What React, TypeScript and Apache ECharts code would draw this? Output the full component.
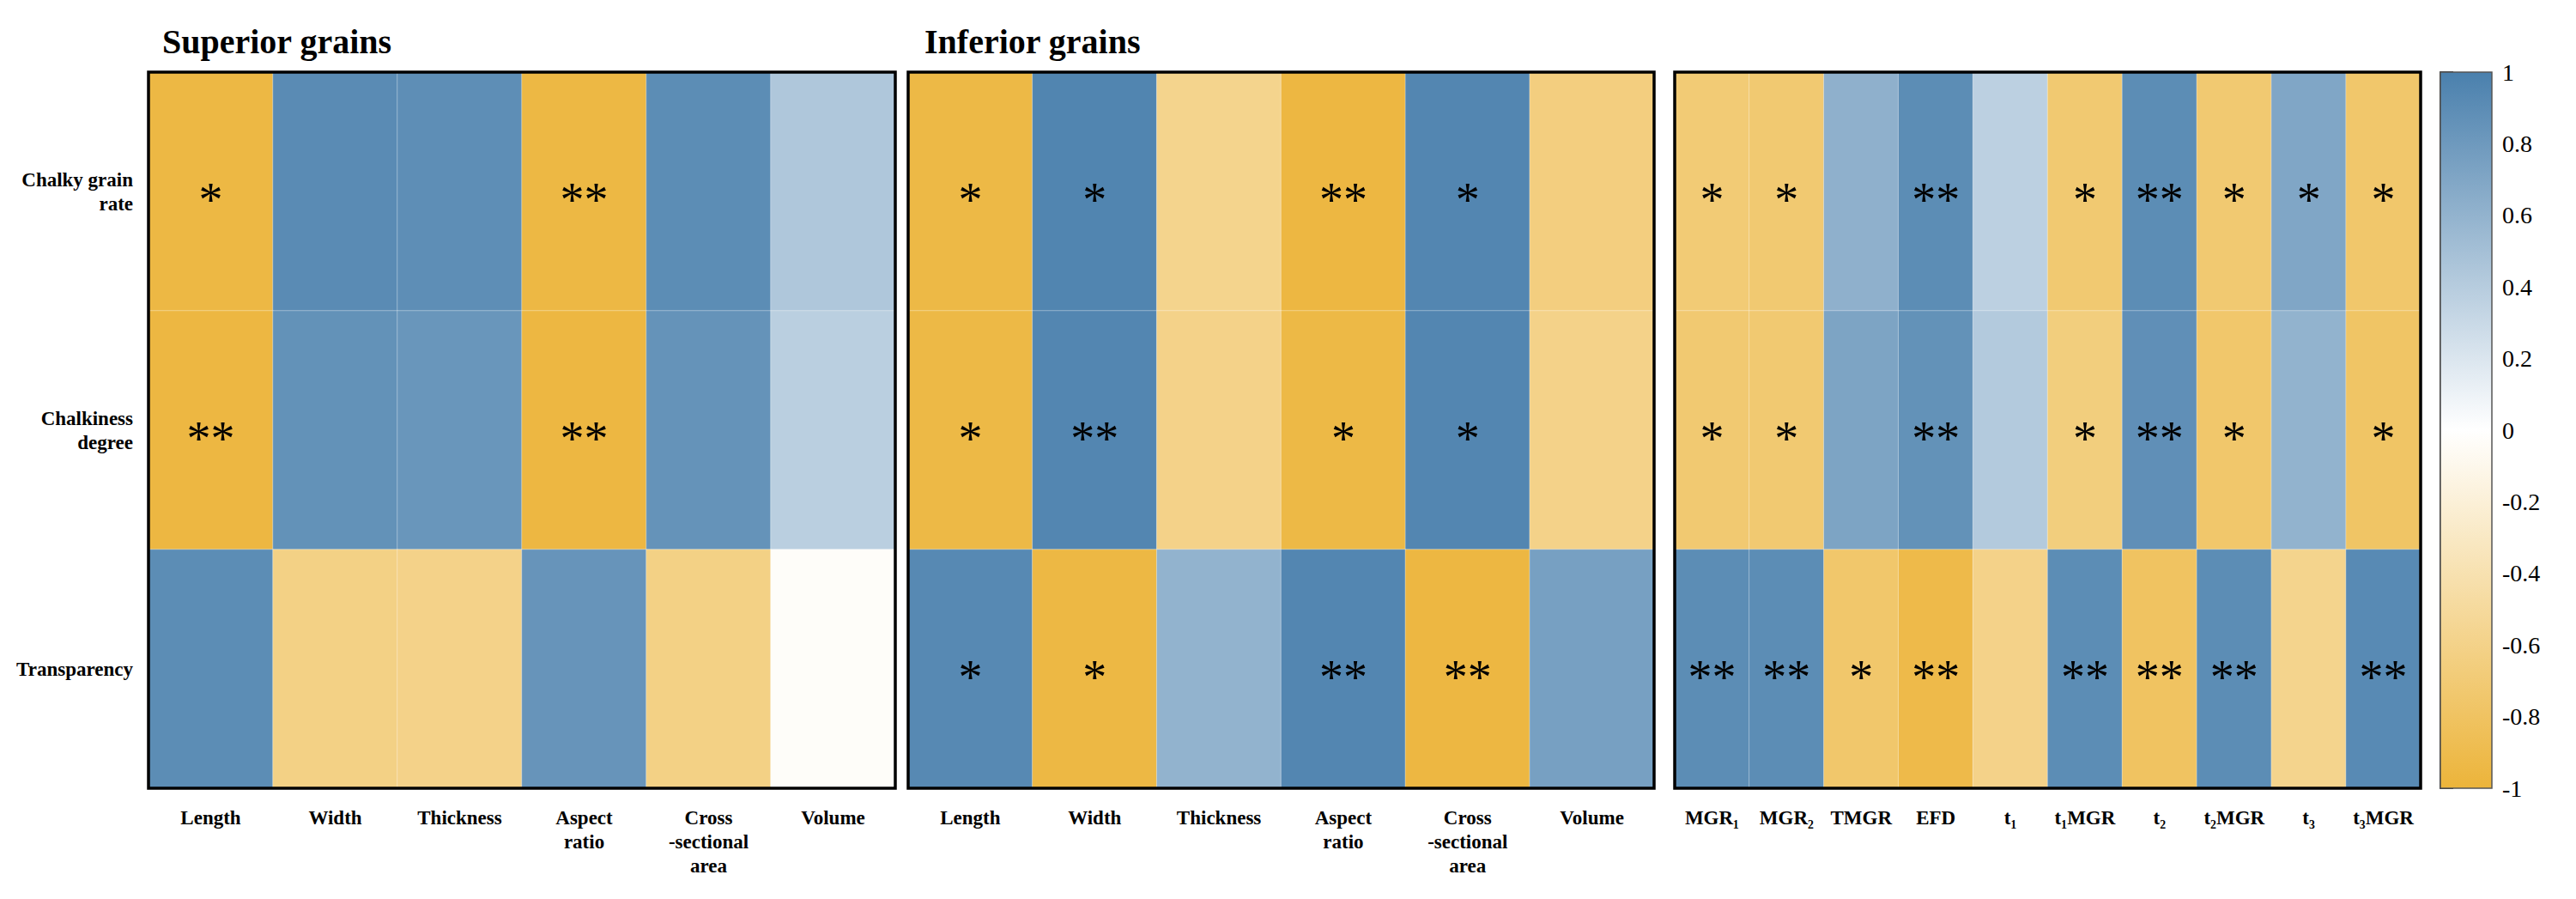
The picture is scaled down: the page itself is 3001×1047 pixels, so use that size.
import React, { useEffect, useRef } from 'react';
import * as echarts from 'echarts';

const traitRows = ['Chalky grain\nrate', 'Chalkiness\ndegree', 'Transparency'];
const grainTraits = ['Length', 'Width', 'Thickness', 'Aspect\nratio', 'Cross\n-sectional\narea', 'Volume'];
const fillingTraits = ['MGR₁', 'MGR₂', 'TMGR', 'EFD', 't₁', 't₁MGR', 't₂', 't₂MGR', 't₃', 't₃MGR'];
const panelTitles = ['Superior grains', 'Inferior grains'];

const superiorValues = [
  [-0.95, 0.91, 0.89, -0.95, 0.9, 0.44],
  [-0.96, 0.86, 0.83, -0.96, 0.85, 0.38],
  [0.9, -0.62, -0.6, 0.84, -0.62, -0.03],
];
const superiorSig = [
  ['*', '', '', '**', '', ''],
  ['**', '', '', '**', '', ''],
  ['', '', '', '', '', ''],
];
const inferiorValues = [
  [-0.94, 0.96, -0.58, -0.96, 0.95, -0.65],
  [-0.94, 0.95, -0.6, -0.94, 0.95, -0.6],
  [0.93, -0.95, 0.6, 0.95, -0.96, 0.75],
];
const inferiorSig = [
  ['*', '*', '', '**', '*', ''],
  ['*', '**', '', '*', '*', ''],
  ['*', '*', '', '**', '**', ''],
];
const fillingValues = [
  [-0.7, -0.72, 0.62, 0.9, 0.37, -0.72, 0.9, -0.72, 0.7, -0.75],
  [-0.72, -0.72, 0.72, 0.86, 0.42, -0.66, 0.88, -0.75, 0.6, -0.78],
  [0.9, 0.9, -0.75, -0.92, -0.6, 0.9, -0.8, 0.9, -0.58, 0.92],
];
const fillingSig = [
  ['*', '*', '', '**', '', '*', '**', '*', '*', '*'],
  ['*', '*', '', '**', '', '*', '**', '*', '', '*'],
  ['**', '**', '*', '**', '', '**', '**', '**', '', '**'],
];

const colorStops = ['#ECB43A', '#FFFFFF', '#4A80AD'];
const SERIF = 'Liberation Serif';

const TOP = 84;
const H = 834;
const panels = [
  { left: 173, width: 870 },
  { left: 1058, width: 869 },
  { left: 1951, width: 869 },
];
const CB = { left: 2843, width: 60 };

export default function App() {
  const ref = useRef<HTMLDivElement>(null);
  useEffect(() => {
    document.body.style.margin = '0';
    const chart = echarts.init(ref.current!, null, { renderer: 'svg' });

    const sets = [
      { cats: grainTraits, values: superiorValues, sig: superiorSig },
      { cats: grainTraits, values: inferiorValues, sig: inferiorSig },
      { cats: fillingTraits, values: fillingValues, sig: fillingSig },
    ];

    const grid: any[] = panels.map((p) => ({ left: p.left, top: TOP, width: p.width, height: H }));
    grid.push({ left: CB.left, top: TOP, width: CB.width, height: H });

    const xAxis: any[] = sets.map((s, i) => ({
      type: 'category',
      gridIndex: i,
      data: s.cats,
      axisLine: { show: false },
      axisTick: { show: false },
      splitLine: { show: false },
      axisLabel: {
        interval: 0,
        margin: 20,
        fontFamily: SERIF,
        fontWeight: 'bold',
        fontSize: 23,
        lineHeight: 28,
        color: '#000',
      },
    }));
    xAxis.push({ type: 'value', gridIndex: 3, show: false, min: 0, max: 1 });

    const yAxis: any[] = sets.map((s, i) => ({
      type: 'category',
      gridIndex: i,
      data: traitRows,
      inverse: true,
      axisLine: { show: false },
      axisTick: { show: false },
      splitLine: { show: false },
      axisLabel: {
        show: i === 0,
        margin: 18,
        align: 'right',
        fontFamily: SERIF,
        fontWeight: 'bold',
        fontSize: 23,
        lineHeight: 28,
        color: '#000',
      },
    }));
    yAxis.push({
      type: 'value',
      gridIndex: 3,
      min: -1,
      max: 1,
      interval: 0.2,
      position: 'right',
      axisLine: { show: true, lineStyle: { color: '#222', width: 2 } },
      axisTick: { show: true, inside: false, length: 15, lineStyle: { color: '#222', width: 2 } },
      splitLine: { show: false },
      axisLabel: {
        margin: 12,
        fontFamily: SERIF,
        fontSize: 28,
        color: '#000',
        formatter: (v: number) => String(Math.round(v * 10) / 10),
      },
    });

    const series: any[] = sets.map((s, i) => ({
      type: 'heatmap',
      xAxisIndex: i,
      yAxisIndex: i,
      data: s.values.flatMap((row, r) => row.map((v, c) => [c, r, v])),
      itemStyle: { borderColor: 'rgba(255,255,255,0.35)', borderWidth: 1 },
      label: {
        show: true,
        fontFamily: SERIF,
        fontSize: 56,
        color: '#000',
        offset: [0, 10],
        formatter: (p: any) => s.sig[p.value[1]][p.value[0]],
      },
      emphasis: { disabled: true },
    }));
    series.push({ type: 'scatter', xAxisIndex: 3, yAxisIndex: 3, data: [], silent: true });

    const graphic: any[] = panels.map((p) => ({
      type: 'rect',
      z: 100,
      silent: true,
      shape: { x: p.left, y: TOP, width: p.width, height: H },
      style: { fill: 'none', stroke: '#000', lineWidth: 3.5 },
    }));
    graphic.push({
      type: 'rect',
      z: 50,
      silent: true,
      shape: { x: CB.left, y: TOP, width: CB.width, height: H },
      style: {
        fill: new echarts.graphic.LinearGradient(0, 0, 0, 1, [
          { offset: 0, color: colorStops[2] },
          { offset: 0.5, color: colorStops[1] },
          { offset: 1, color: colorStops[0] },
        ]),
        stroke: '#555',
        lineWidth: 1.5,
      },
    });
    panelTitles.forEach((t, i) => {
      graphic.push({
        type: 'text',
        z: 100,
        x: panels[i].left + (i === 0 ? 16 : 19),
        y: 48,
        style: {
          text: t,
          fontFamily: SERIF,
          fontWeight: 'bold',
          fontSize: 40,
          fill: '#000',
          verticalAlign: 'middle',
          align: 'left',
        },
      });
    });

    chart.setOption({
      animation: false,
      backgroundColor: '#fff',
      textStyle: { fontFamily: SERIF },
      grid,
      xAxis,
      yAxis,
      visualMap: {
        type: 'continuous',
        show: false,
        min: -1,
        max: 1,
        seriesIndex: [0, 1, 2],
        inRange: { color: colorStops },
      },
      series,
      graphic,
    });
    return () => chart.dispose();
  }, []);
  return <div ref={ref} style={{ width: 3001, height: 1047 }} />;
}
